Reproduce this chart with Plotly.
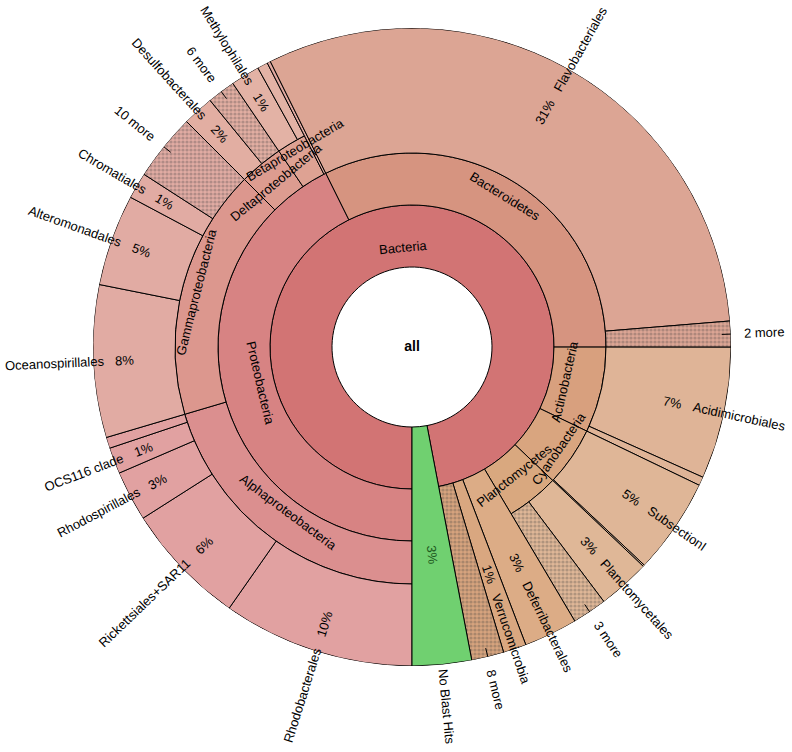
import math
import plotly.graph_objects as go

# ---- data: Krona style breakdown, % of all reads ----
# leaves listed clockwise starting at 6 o'clock
leaf_labels = ["Rhodobacterales", "Rickettsiales+SAR11", "Rhodospirillales", "OCS116 clade", "",
               "Oceanospirillales", "Alteromonadales", "Chromatiales", "10 more",
               "Desulfobacterales", "6 more",
               "Methylophilales", "",
               "",
               "Flavobacteriales", "2 more",
               "Acidimicrobiales", "",
               "SubsectionI", "",
               "Planctomycetales", "3 more",
               "Deferribacterales", "Verrucomicrobia", "8 more",
               "No Blast Hits"]
leaf_parents = ["Alphaproteobacteria"] * 5 + ["Gammaproteobacteria"] * 4 + \
               ["Deltaproteobacteria"] * 2 + ["Betaproteobacteria"] * 2 + ["Proteobacteria"] + \
               ["Bacteroidetes"] * 2 + ["Actinobacteria"] * 2 + ["Cyanobacteria"] * 2 + \
               ["Planctomycetes"] * 2 + ["Bacteria"] * 3 + ["all"]
leaf_values = [9.72, 6.26, 2.55, 1.33, 0.56,
               7.72, 4.64, 1.33, 3.39,
               1.58, 1.42,
               1.47, 0.53,
               0.17,
               31.03, 1.31,
               6.69, 0.44,
               4.86, 0.08,
               2.64, 1.75,
               2.72, 1.17, 1.64,
               3.00]

group_labels = ["Bacteria", "Proteobacteria", "Alphaproteobacteria", "Gammaproteobacteria",
                "Deltaproteobacteria", "Betaproteobacteria", "Bacteroidetes", "Actinobacteria",
                "Cyanobacteria", "Planctomycetes"]
group_parents = ["all", "Bacteria", "Proteobacteria", "Proteobacteria", "Proteobacteria",
                 "Proteobacteria", "Bacteria", "Bacteria", "Bacteria", "Bacteria"]

# ---- styling ----
ring_radii = [80, 142, 194, 237, 319]
group_colors = {
    "Bacteria": "#d27474", "Proteobacteria": "#d78383", "Alphaproteobacteria": "#db8f8f",
    "Gammaproteobacteria": "#dc978e", "Deltaproteobacteria": "#dd9c90",
    "Betaproteobacteria": "#dea293", "Bacteroidetes": "#d69480", "Actinobacteria": "#d8a07e",
    "Cyanobacteria": "#d9a57f", "Planctomycetes": "#d9a87f",
}
leaf_colors_by_parent = {
    "Alphaproteobacteria": "#e1a1a1", "Gammaproteobacteria": "#e1aba3",
    "Deltaproteobacteria": "#e2aea2", "Betaproteobacteria": "#e3b2a5",
    "Proteobacteria": "#e0a8a0", "Bacteroidetes": "#dca594", "Actinobacteria": "#dfb497",
    "Cyanobacteria": "#dfb697", "Planctomycetes": "#dfb797",
}
leaf_color_override = {"Deferribacterales": "#dcac86", "Verrucomicrobia": "#d9a780",
                       "8 more": "#d6a37d", "No Blast Hits": "#70d070"}
label_radius = {"Bacteria": 100, "Proteobacteria": 156, "Bacteroidetes": 177,
                "Actinobacteria": 157, "Cyanobacteria": 178, "Planctomycetes": 164,
                "Alphaproteobacteria": 206, "Gammaproteobacteria": 223,
                "Deltaproteobacteria": 214, "Betaproteobacteria": 229}
names_outside = {"No Blast Hits"}
FONT = "Liberation Sans, Arial, Helvetica, sans-serif"
FS = 13

# Arial advance widths (1/1000 em) to place radial labels
W = dict(zip(" %+.0123456789", [278, 889, 584, 278] + [556] * 10))
W.update(dict(zip("ABCDEFGHIJKLMNOPQRSTUVWXYZ",
                  [667, 667, 722, 722, 667, 611, 778, 722, 278, 500, 667, 556, 833, 722, 778,
                   667, 778, 722, 667, 611, 722, 667, 944, 667, 667, 611])))
W.update(dict(zip("abcdefghijklmnopqrstuvwxyz",
                  [556, 556, 500, 556, 556, 278, 556, 556, 222, 222, 500, 222, 833, 556, 556,
                   556, 556, 333, 500, 278, 556, 500, 722, 500, 500, 500])))


def text_w(s):
    return sum(W.get(c, 556) for c in s) * FS / 1000


parent_of = dict(zip(group_labels, group_parents))


def chain(name):
    out = []
    while name != "all":
        out.append(name)
        name = parent_of[name]
    return out


total = sum(leaf_values)
starts, ends = [], []
acc = 0
for v in leaf_values:
    starts.append(acc / total * 360)
    acc += v
    ends.append(acc / total * 360)

extent = {}
for i, p in enumerate(leaf_parents):
    for g in chain(p):
        a, b = extent.get(g, (360, 0))
        extent[g] = (min(a, starts[i]), max(b, ends[i]))


def xy(r, th):
    a = math.radians(th)
    return -r * math.sin(a), -r * math.cos(a)


def radial_angle(th):
    return th - 270 if th >= 180 else th - 90


def tangential_angle(th):
    return (th + 90) % 180 - 90


thetas, widths, bases, thick, fills, shapes = [], [], [], [], [], []
annotations = []
lead_r, lead_t = [], []


def label(text, r, th, angle, color="black"):
    x, y = xy(r, th)
    annotations.append(dict(x=x, y=y, xref="x", yref="y", text=text, showarrow=False,
                            textangle=angle, xanchor="center", yanchor="middle",
                            font=dict(family=FONT, size=FS, color=color)))


for g in group_labels:
    a, b = extent[g]
    d = len(chain(g))
    thetas.append((a + b) / 2)
    widths.append(b - a)
    bases.append(ring_radii[d - 1])
    thick.append(ring_radii[d] - ring_radii[d - 1])
    fills.append(group_colors[g])
    shapes.append("")
    th = (a + b) / 2
    label(g, label_radius[g], th, tangential_angle(th))

for i, name in enumerate(leaf_labels):
    p = leaf_parents[i]
    d = len(chain(p)) + 1
    inner, outer = ring_radii[d - 1], ring_radii[-1]
    th = (starts[i] + ends[i]) / 2
    thetas.append(th)
    widths.append(ends[i] - starts[i])
    bases.append(inner)
    thick.append(outer - inner)
    fills.append(leaf_color_override.get(name, leaf_colors_by_parent.get(p)))
    is_more = name.endswith(" more")
    shapes.append("." if is_more else "")
    if not name:
        continue
    ang = radial_angle(th)
    wn = text_w(name)
    if is_more:
        lead_r += [outer - 9, outer + 10, None]
        lead_t += [th, th, None]
        label(name, outer + 13 + wn / 2, th, ang)
        continue
    pct = f"{round(leaf_values[i] / total * 100)}%"
    wp = text_w(pct)
    mid = (inner + outer) / 2
    label(pct, mid + wp / 2, th, ang, "#1f5a1f" if name == "No Blast Hits" else "black")
    if name in names_outside:
        label(name, outer + 5 + wn / 2, th, ang)
    else:
        label(name, mid + wp + 12 + wn / 2, th, ang)

fig = go.Figure()
fig.add_trace(go.Barpolar(
    r=thick, base=bases, theta=thetas, width=widths,
    marker=dict(color=fills, line=dict(color="black", width=1),
                pattern=dict(shape=shapes, fgcolor="#a87a66", fgopacity=0.3,
                             size=4, solidity=0.5)),
    hoverinfo="skip", showlegend=False,
))
fig.add_trace(go.Scatterpolar(r=lead_r, theta=lead_t, mode="lines",
                              line=dict(color="black", width=1),
                              hoverinfo="skip", showlegend=False))
fig.add_trace(go.Scatter(x=[0], y=[0], mode="text", text=["<b>all</b>"],
                         textfont=dict(family=FONT, size=14, color="black"),
                         hoverinfo="skip", showlegend=False))

R = ring_radii[-1]
cx, cy = 412, 347
FW, FH = 792, 752
dom_x = [(cx - R) / FW, (cx + R) / FW]
dom_y = [(FH - cy - R) / FH, (FH - cy + R) / FH]

fig.update_layout(
    width=FW, height=FH,
    margin=dict(l=0, r=0, t=0, b=0),
    paper_bgcolor="white", plot_bgcolor="rgba(0,0,0,0)",
    polar=dict(
        domain=dict(x=dom_x, y=dom_y),
        bgcolor="rgba(0,0,0,0)",
        barmode="overlay",
        radialaxis=dict(visible=False, range=[0, R]),
        angularaxis=dict(visible=False, direction="clockwise", rotation=270),
    ),
    # 1 unit = 1 px, whole figure, so labels outside the circle stay visible
    xaxis=dict(domain=[0, 1], range=[-cx, FW - cx], visible=False, fixedrange=True),
    yaxis=dict(domain=[0, 1], range=[-(FH - cy), cy], visible=False, fixedrange=True),
    annotations=annotations,
    showlegend=False,
)

# drop the default 8px page margin so the figure fills the window
fig.write_html("out.html", config={"displayModeBar": False},
               post_script="document.body.style.margin='0px';")
